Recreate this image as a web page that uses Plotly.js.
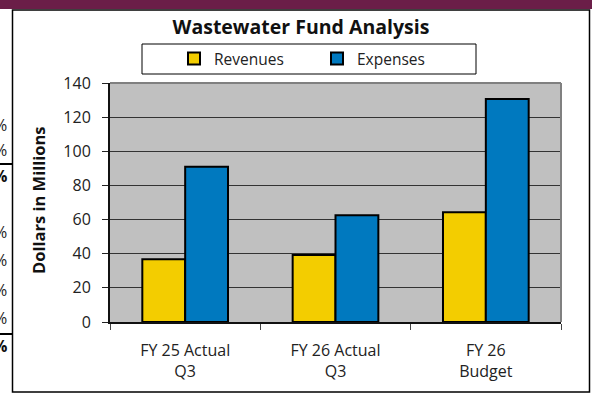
<!DOCTYPE html>
<html>
<head>
<meta charset="utf-8">
<script src="https://cdn.plot.ly/plotly-3.0.1.min.js"></script>
<style>html,body{margin:0;padding:0;background:#fff;}#chart{width:592px;height:407px;}</style>
</head>
<body>
<div id="chart"></div>
<script>
// ---- data ----
var categories = ['FY 25 Actual<br>Q3', 'FY 26 Actual<br>Q3', 'FY 26<br>Budget'];
var revenues = [36.8, 39.2, 64.3];
var expenses = [91.0, 62.6, 130.6];
var seriesNames = ['Revenues', 'Expenses'];
var yTicks = [0, 20, 40, 60, 80, 100, 120, 140];
// fragments of a neighbouring table that is cut off at the left edge
var fragRegularY = [125, 150, 232, 260, 290, 318];
var fragBoldY = [176, 346];
var fragLineY = [164, 334];

// ---- layout helpers (pixel -> paper) ----
var W = 592, H = 407, L = 110, R = 31, T = 83, B = 85;
var PW = W - L - R, PH = H - T - B;
function px(x) { return (x - L) / PW; }
function py(y) { return (H - B - y) / PH; }

var FONT = 'Open Sans, Noto Sans, sans-serif';

var traces = [
  { type: 'bar', name: seriesNames[0], x: categories, y: revenues,
    marker: { color: '#F3CD00', line: { color: '#000', width: 2 } } },
  { type: 'bar', name: seriesNames[1], x: categories, y: expenses,
    marker: { color: '#0079BF', line: { color: '#000', width: 2 } } }
];

var shapes = [
  { type: 'rect', xref: 'paper', yref: 'paper', x0: px(-2), x1: px(W + 2), y0: py(9), y1: py(-2),
    fillcolor: '#6B1E48', line: { width: 0 } },
  { type: 'rect', xref: 'paper', yref: 'paper', x0: px(12.5), x1: px(589.5), y0: py(392), y1: py(10),
    fillcolor: 'rgba(0,0,0,0)', line: { color: '#000', width: 1.5 } },
  { type: 'rect', xref: 'paper', yref: 'paper', x0: px(142), x1: px(476), y0: py(74), y1: py(44),
    fillcolor: '#fff', line: { color: '#000', width: 1 } },
  { type: 'line', xref: 'paper', yref: 'paper', x0: 0, x1: 1, y0: 1, y1: 1,
    line: { color: '#808080', width: 2 } },
  { type: 'line', xref: 'paper', yref: 'paper', x0: 1, x1: 1, y0: 0, y1: 1,
    line: { color: '#808080', width: 2 } }
];
fragLineY.forEach(function (y) {
  shapes.push({ type: 'line', xref: 'paper', yref: 'paper', x0: px(-2), x1: px(12.5), y0: py(y), y1: py(y),
    line: { color: '#000', width: 2 } });
});

var annotations = [
  { text: '<b>Dollars in Millions</b>', xref: 'paper', yref: 'paper', x: px(38), y: py(200),
    xanchor: 'center', yanchor: 'middle',
    textangle: -90, showarrow: false, font: { family: FONT, size: 16.5, color: '#111' } }
];
fragRegularY.forEach(function (y) {
  annotations.push({ text: '%', xref: 'paper', yref: 'paper', x: px(9), y: py(y), xanchor: 'right',
    yanchor: 'middle', showarrow: false, font: { family: FONT, size: 16, color: '#222' } });
});
fragBoldY.forEach(function (y) {
  annotations.push({ text: '<b>%</b>', xref: 'paper', yref: 'paper', x: px(9), y: py(y), xanchor: 'right',
    yanchor: 'middle', showarrow: false, font: { family: FONT, size: 16, color: '#111' } });
});

var layout = {
  width: W, height: H,
  margin: { l: L, r: R, t: T, b: B, pad: 0 },
  paper_bgcolor: '#fff',
  plot_bgcolor: '#C0C0C0',
  font: { family: FONT, size: 16, color: '#222' },
  title: { text: '<b>Wastewater Fund Analysis</b>', font: { family: FONT, size: 19.5, color: '#111' },
    x: 301 / W, xref: 'container', xanchor: 'center', y: 1 - 27 / H, yref: 'container', yanchor: 'middle' },
  barmode: 'group', bargap: 0.43, bargroupgap: 0,
  showlegend: true,
  legend: { orientation: 'h', x: px(174), xanchor: 'left', y: py(59), yanchor: 'middle',
    bgcolor: 'rgba(0,0,0,0)', borderwidth: 0, entrywidth: 98, entrywidthmode: 'pixels',
    font: { family: FONT, size: 15.5, color: '#222' } },
  xaxis: { type: 'category', showline: true, linecolor: '#111', linewidth: 2,
    ticks: 'outside', tickson: 'boundaries', ticklen: 6, tickcolor: '#444', tickwidth: 1,
    showgrid: false, zeroline: false, ticklabelstandoff: 13,
    tickfont: { family: FONT, size: 16, color: '#222' }, fixedrange: true },
  yaxis: { range: [0, 140], tickvals: yTicks, showline: true, linecolor: '#111', linewidth: 2,
    ticks: 'outside', ticklen: 6, tickcolor: '#222', tickwidth: 1,
    showgrid: true, gridcolor: '#333', gridwidth: 1, zeroline: false,
    ticklabelstandoff: 8,
    tickfont: { family: FONT, size: 16, color: '#222' }, fixedrange: true },
  shapes: shapes,
  annotations: annotations
};

Plotly.newPlot('chart', traces, layout, { displayModeBar: false, staticPlot: true });
</script>
</body>
</html>
